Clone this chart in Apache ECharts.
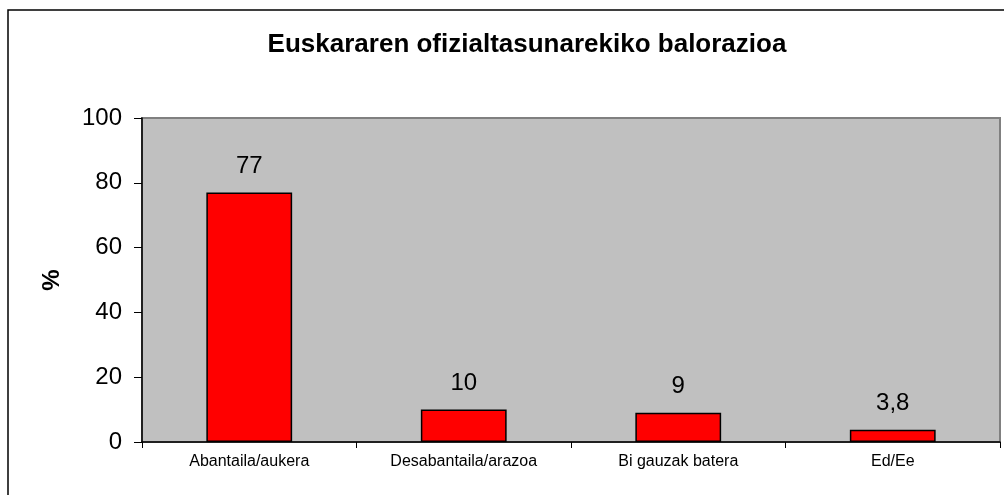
<!DOCTYPE html>
<html>
<head>
<meta charset="utf-8">
<script src="https://cdn.jsdelivr.net/npm/echarts@6/dist/echarts.min.js"></script>
<style>
  html, body { margin: 0; padding: 0; background: #fff; }
  #chart { width: 1004px; height: 495px; }
</style>
</head>
<body>
<div id="chart"></div>
<script>
var categories = ["Abantaila/aukera", "Desabantaila/arazoa", "Bi gauzak batera", "Ed/Ee"];
var values = [77, 10, 9, 3.8];
var yTicks = [0, 20, 40, 60, 80, 100];

var chart = echarts.init(document.getElementById("chart"));
var font = "Liberation Sans, Arial, sans-serif";

chart.setOption({
  animation: false,
  backgroundColor: "#fff",
  title: {
    text: "Euskararen ofizialtasunarekiko balorazioa",
    left: 522,
    top: 27,
    textAlign: "center",
    textStyle: { fontFamily: font, fontSize: 26, fontWeight: "bold", color: "#000" }
  },
  graphic: [
    {
      type: "rect",
      silent: true,
      shape: { x: 8, y: 10, width: 1100, height: 600 },
      style: { fill: null, stroke: "#000", lineWidth: 1.5 },
      z: -1
    }
  ],
  grid: {
    left: 142,
    top: 118,
    right: 4,
    bottom: 53,
    show: true,
    backgroundColor: "#C0C0C0",
    borderColor: "#808080",
    borderWidth: 2
  },
  xAxis: {
    type: "category",
    data: categories,
    axisLine: { lineStyle: { color: "#000", width: 1.5 } },
    axisTick: { show: true, length: 6, lineStyle: { color: "#000" } },
    axisLabel: { fontFamily: font, fontSize: 16, color: "#000", margin: 12 }
  },
  yAxis: {
    type: "value",
    min: yTicks[0],
    max: yTicks[yTicks.length - 1],
    interval: 20,
    name: "%",
    nameLocation: "middle",
    nameGap: 78,
    nameTextStyle: { fontFamily: font, fontSize: 24, fontWeight: "bold", color: "#000" },
    axisLine: { show: true, lineStyle: { color: "#000", width: 1.5 } },
    axisTick: { show: true, length: 8, lineStyle: { color: "#000" } },
    splitLine: { show: false },
    axisLabel: { fontFamily: font, fontSize: 24, color: "#000", margin: 20 }
  },
  series: [
    {
      type: "bar",
      data: values,
      barWidth: "40%",
      itemStyle: { color: "#FF0000", borderColor: "#000", borderWidth: 1.5 },
      label: {
        show: true,
        position: "top",
        distance: 14,
        fontFamily: font,
        fontSize: 24,
        color: "#000",
        formatter: function (p) { return String(p.value).replace(".", ","); }
      }
    }
  ]
});
</script>
</body>
</html>
